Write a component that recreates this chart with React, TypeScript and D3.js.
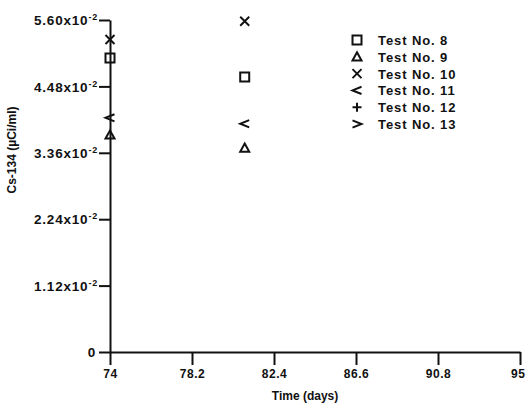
import { useEffect, useRef } from "react";
import * as d3 from "d3";

// days of sampling
const days = [74, 80.9];

// Cs-134 activity (uCi/ml) per test
const test8 = [0.0496, 0.0464];
const test9 = [0.0366, 0.0344];
const test10 = [0.0527, 0.0558];
const test11 = [0.0395, 0.0385];
const test12: number[] = [];
const test13: number[] = [];

const legendLabels = ["Test No. 8", "Test No. 9", "Test No. 10", "Test No. 11", "Test No. 12", "Test No. 13"];
const symbols = ["square", "triangle", "cross", "lt", "plus", "gt"];

const xTicks = [74, 78.2, 82.4, 86.6, 90.8, 95];
const yTicks = [0, 0.0112, 0.0224, 0.0336, 0.0448, 0.056];
const yTickText = ["0", "1.12", "2.24", "3.36", "4.48", "5.60"];

function symbolPath(kind: string, r: number) {
    const p = d3.path();
    if (kind === "square") {
        p.rect(-r, -r, 2 * r, 2 * r);
    } else if (kind === "triangle") {
        p.moveTo(0, -r);
        p.lineTo(r, r * 0.8);
        p.lineTo(-r, r * 0.8);
        p.closePath();
    } else if (kind === "cross") {
        p.moveTo(-r, -r); p.lineTo(r, r);
        p.moveTo(r, -r); p.lineTo(-r, r);
    } else if (kind === "plus") {
        p.moveTo(-r, 0); p.lineTo(r, 0);
        p.moveTo(0, -r); p.lineTo(0, r);
    } else if (kind === "lt") {
        p.moveTo(r, -r * 0.8); p.lineTo(-r, 0); p.lineTo(r, r * 0.8);
    } else {
        p.moveTo(-r, -r * 0.8); p.lineTo(r, 0); p.lineTo(-r, r * 0.8);
    }
    return p.toString();
}

export default function App() {
    const svgRef = useRef<SVGSVGElement>(null);

    useEffect(() => {
        const w = 526;
        const h = 406;
        const margin = { top: 20, right: 6, bottom: 54, left: 110 };
        const svg = d3.select(svgRef.current).attr("width", w).attr("height", h);
        svg.selectAll("*").remove();

        const font = "'Liberation Sans', Arial, sans-serif";

        const x = d3.scaleLinear().domain([74, 95]).range([margin.left, w - margin.right]);
        const y = d3.scaleLinear().domain([0, 0.056]).range([h - margin.bottom, margin.top]);

        const series = [test8, test9, test10, test11, test12, test13].map((vals, i) => ({
            name: legendLabels[i],
            symbol: symbols[i],
            points: vals.map((v, j) => ({ day: days[j], value: v })),
        }));

        // x axis
        const gx = svg.append("g")
            .attr("transform", `translate(0,${y(0)})`)
            .call(d3.axisBottom(x).tickValues(xTicks).tickSize(13).tickSizeOuter(0).tickPadding(4).tickFormat((d) => String(d)));
        gx.selectAll("path, line").attr("stroke", "#111").attr("stroke-width", 2);
        gx.selectAll("text")
            .attr("fill", "#111")
            .style("font", `bold 12px ${font}`)
            .style("letter-spacing", "0.6px");
        // last label sits against the right edge
        gx.selectAll(".tick:last-of-type text").attr("text-anchor", "end").attr("x", 5);

        // y axis
        const gy = svg.append("g")
            .attr("transform", `translate(${x(74)},0)`)
            .call(d3.axisLeft(y).tickValues(yTicks).tickSize(11).tickSizeOuter(0).tickFormat(() => ""));
        gy.selectAll("path, line").attr("stroke", "#111").attr("stroke-width", 2);
        gy.selectAll(".tick").each(function (d, i) {
            const t = d3.select(this).append("text")
                .attr("x", i === 0 ? -14 : -12)
                .attr("dy", "0.35em")
                .attr("text-anchor", "end")
                .attr("fill", "#111")
                .style("font", `bold 13.5px ${font}`)
                .style("letter-spacing", "0.8px");
            if (i === 0) {
                t.text(yTickText[i]);
            } else {
                t.append("tspan").text(yTickText[i] + "x10");
                t.append("tspan").attr("dy", -5).style("font-size", "9px").text("-2");
            }
        });

        // axis titles
        svg.append("text")
            .attr("x", 305)
            .attr("y", 400)
            .attr("text-anchor", "middle")
            .attr("fill", "#111")
            .style("font", `bold 12px ${font}`)
            .text("Time (days)");

        svg.append("text")
            .attr("transform", `translate(16,150) rotate(-90)`)
            .attr("text-anchor", "middle")
            .attr("fill", "#111")
            .style("font", `bold 12px ${font}`)
            .text("Cs-134 (\u00b5Ci/ml)");

        // data points
        series.forEach((s) => {
            svg.append("g")
                .selectAll("path")
                .data(s.points)
                .join("path")
                .attr("transform", (d) => `translate(${x(d.day)},${y(d.value)})`)
                .attr("d", symbolPath(s.symbol, 4.5))
                .attr("fill", "none")
                .attr("stroke", "#111")
                .attr("stroke-width", 2);
        });

        // legend
        const legend = svg.append("g").attr("transform", "translate(357,40)");
        const rows = legend.selectAll("g").data(series).join("g")
            .attr("transform", (d, i) => `translate(0,${i * 16.8})`);
        rows.append("path")
            .attr("d", (d) => symbolPath(d.symbol, 4.5))
            .attr("fill", "none")
            .attr("stroke", "#111")
            .attr("stroke-width", 2);
        rows.append("text")
            .attr("x", 21)
            .attr("dy", "0.38em")
            .attr("fill", "#111")
            .style("font", `bold 13px ${font}`)
            .style("letter-spacing", "0.9px")
            .text((d) => d.name);
    }, []);

    return <svg ref={svgRef} style={{ position: "absolute", left: 0, top: 0, background: "#fff" }}></svg>;
}
